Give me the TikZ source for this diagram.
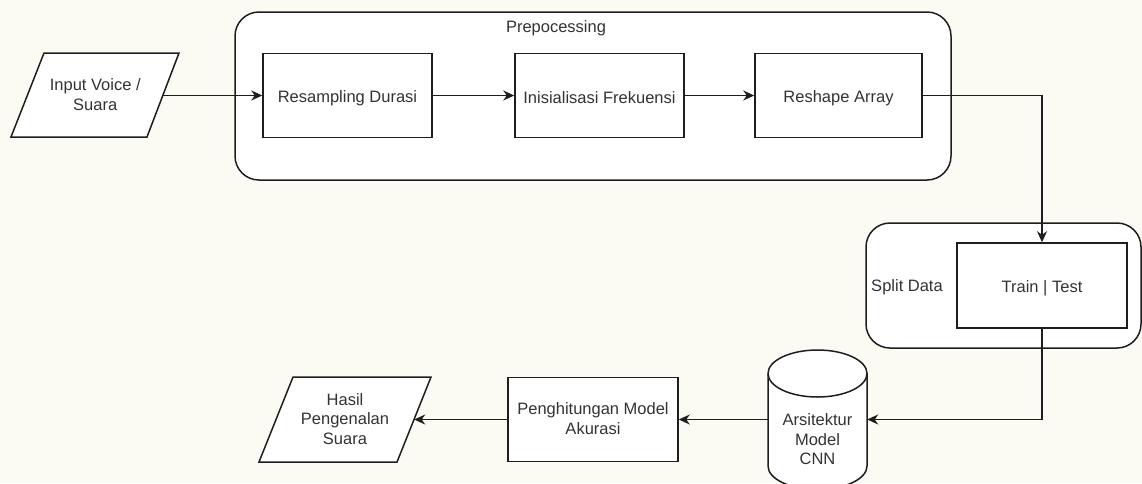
\documentclass[tikz,border=0pt]{standalone}
\usepackage{fontspec}
\setmainfont{Liberation Sans}
\usetikzlibrary{arrows.meta}
\definecolor{bgc}{RGB}{251,251,243}
\definecolor{linec}{RGB}{30,30,30}
\definecolor{textc}{RGB}{51,51,51}
\newcommand{\lnstrut}{\rule[-1.5pt]{0pt}{19.5pt}}
\tikzset{
  base/.style={font=\fontsize{16.5}{19.5}\selectfont, text=textc, align=center, inner sep=0pt,
    execute at begin node=\lnstrut, execute at end node=\lnstrut},
  box/.style={base, draw=linec, line width=1.5pt, fill=white, minimum width=#1, minimum height=84pt},
  group/.style={draw=linec, line width=1.5pt, fill=white, rounded corners=24pt},
  shapeline/.style={draw=linec, line width=1.5pt, fill=white},
  anchorbox/.style={base, minimum width=#1, minimum height=84pt},
  conn/.style={draw=linec, line width=1.5pt, -{Stealth[length=11pt,width=10pt,inset=3.5pt]}},
}
\begin{document}
\begin{tikzpicture}[x=1pt,y=-1pt]
\useasboundingbox (0,0) rectangle (1142,483);
\fill[bgc] (0,0) rectangle (1142,483);

% containers
\path[group] (235,12) rectangle (951,180);
\path[group] (866,223) rectangle (1141,348);
\node[base] (prelbl) at (556,25.5) {Prepocessing};
\node[base] (splitlbl) at (907,284.5) {Split Data};

% parallelogram shapes and cylinder
\path[shapeline] (44,53) -- (179,53) -- (147,137) -- (11,137) -- cycle;
\path[shapeline] (293,377) -- (431,377) -- (397,462) -- (259,462) -- cycle;
\path[shapeline] (768,373.5) -- (768,466)
  arc[start angle=180,end angle=0,x radius=49.5,y radius=23.5]
  -- (867,373.5)
  arc[start angle=0,end angle=-180,x radius=49.5,y radius=23.5] -- cycle;
\draw[draw=linec, line width=1.5pt] (768,373.5)
  arc[start angle=180,end angle=0,x radius=49.5,y radius=23.5];

% nodes
\node[anchorbox=135.5] (inp) at (95.25,95.5) {Input Voice /\\Suara};
\node[box=169] (res) at (347.5,95.5) {Resampling Durasi};
\node[box=169] (ini) at (599.5,95.5) {Inisialisasi Frekuensi};
\node[box=167] (rsh) at (838.5,95.5) {Reshape Array};
\node[box=170, minimum height=85pt] (train) at (1042,285.5) {Train | Test};
\node[base, minimum width=99pt, minimum height=139pt] (cnn) at (817.5,419.5) {};
\node[base] (cnntext) at (817.5,440) {Arsitektur\\Model\\CNN};
\node[box=170] (pen) at (593,419.5) {Penghitungan Model\\Akurasi};
\node[anchorbox=138] (hasil) at (345,419.5) {Hasil\\Pengenalan\\Suara};

% connectors
\draw[conn] (inp.east) -- (res.west);
\draw[conn] (res.east) -- (ini.west);
\draw[conn] (ini.east) -- (rsh.west);
\draw[conn] (rsh.east) -| (train.north);
\draw[conn] (train.south) |- (cnn.east);
\draw[conn] (cnn.west) -- (pen.east);
\draw[conn] (pen.west) -- (hasil.east);
\end{tikzpicture}
\end{document}
